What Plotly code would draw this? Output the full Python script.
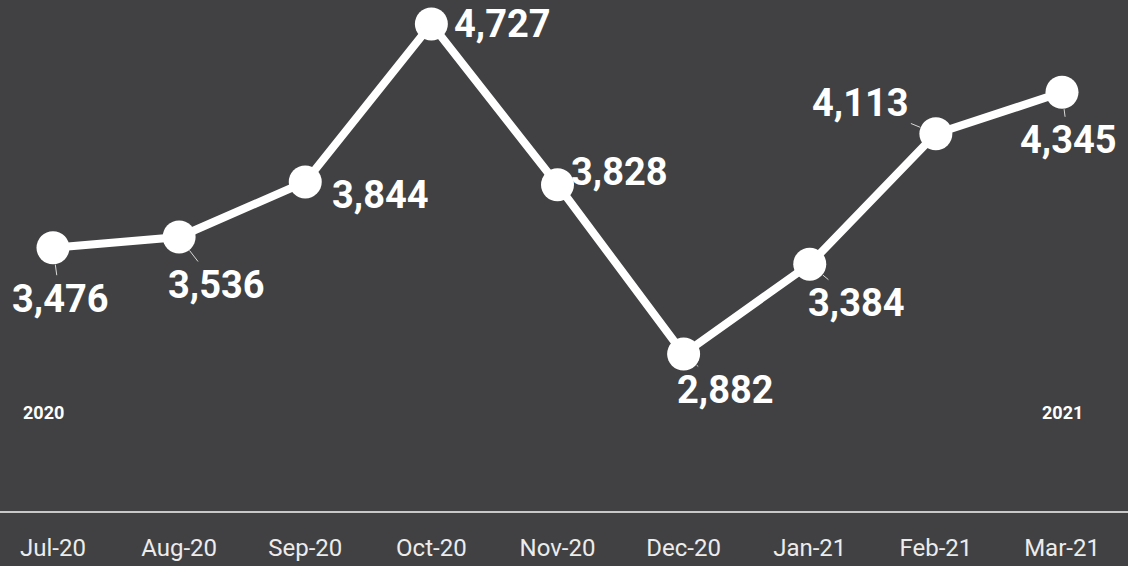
import plotly.graph_objects as go

months = ["Jul-20", "Aug-20", "Sep-20", "Oct-20", "Nov-20", "Dec-20", "Jan-21", "Feb-21", "Mar-21"]
values = [3476, 3536, 3844, 4727, 3828, 2882, 3384, 4113, 4345]
year_labels = {"Jul-20": "2020", "Mar-21": "2021"}

# label offsets (pixels, screen coords: dx right, dy down) and leader flag
label_dx = [7, 37, 75, 71, 62, 42, 47, -75, 6]
label_dy = [51, 48, 13, 0, -13, 36, 39, -31, 48]
leader = [True, True, False, False, False, True, True, True, True]

BG = "#414143"
FONT = "Roboto"

fig = go.Figure()
fig.add_trace(go.Scatter(
    x=months, y=values, mode="lines+markers",
    line=dict(color="white", width=8),
    marker=dict(color="white", size=33),
    hoverinfo="skip", cliponaxis=False,
))

for m, v, dx, dy, ld in zip(months, values, label_dx, label_dy, leader):
    txt = f"{v:,}"
    if ld:
        fig.add_annotation(
            x=m, y=v, text=f"<b>{txt}</b>", showarrow=True,
            ax=dx, ay=dy, arrowhead=0, arrowwidth=1, arrowcolor="#d8d8d8",
            standoff=17,
            font=dict(family=FONT, size=38, color="white"),
        )
    else:
        fig.add_annotation(
            x=m, y=v, text=f"<b>{txt}</b>", showarrow=False,
            xshift=dx, yshift=-dy,
            font=dict(family=FONT, size=38, color="white"),
        )

for m, yl in year_labels.items():
    fig.add_annotation(
        x=m, y=0.168, yref="paper", text=f"<b>{yl}</b>", showarrow=False,
        font=dict(family=FONT, size=18, color="white"),
        xshift=-10 if yl == "2020" else 0,
    )

fig.update_layout(
    width=1128, height=566,
    margin=dict(l=0, r=0, t=0, b=55),
    paper_bgcolor=BG, plot_bgcolor=BG,
    showlegend=False,
    xaxis=dict(
        type="category", range=[-0.4202, 8.5233],
        showgrid=False, zeroline=False,
        showline=True, linecolor="#c8c8c8", linewidth=2,
        ticks="", ticklabelstandoff=14,
        tickfont=dict(family=FONT, size=24, color="#ececec"),
        automargin=False,
    ),
    yaxis=dict(
        range=[2004, 4861], visible=False, showgrid=False, zeroline=False,
    ),
)

fig.write_html(
    "out.html",
    config={"displayModeBar": False},
    post_script="document.body.style.margin='0';document.body.style.overflow='hidden';",
)
